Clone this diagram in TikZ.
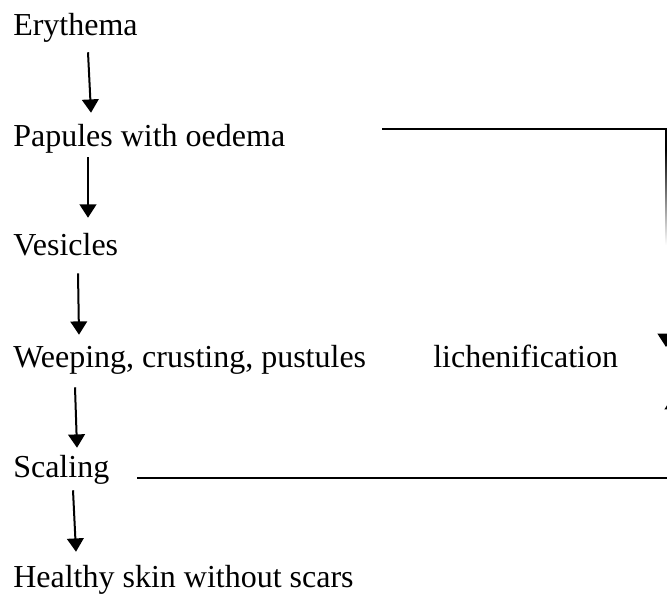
\documentclass[tikz,border=0pt]{standalone}
\usepackage{fontspec}
\setmainfont{Liberation Serif}
\usetikzlibrary{arrows.meta, positioning, calc}

\begin{document}
\begin{tikzpicture}[
		x=0.75pt, y=-0.75pt,
		stage/.style={inner sep=0pt, anchor=base west, text height=16.5pt, text depth=5.25pt,
			font=\fontsize{24}{28}\selectfont},
		arrow/.style={-{Triangle[length=10pt, width=12.5pt]}, line width=1.5pt},
		edge/.style={line width=1.5pt}
	]
		\useasboundingbox (0,0) rectangle (667,597);
		\clip (0,0) rectangle (667,597);
		\node[stage] (ery) at (13,35) {Erythema};
		\node[stage] (pap) at (13,146) {Papules with oedema};
		\node[stage] (ves) at (13,255) {Vesicles};
		\node[stage] (weep) at (13,367) {Weeping, crusting, pustules};
		\node[stage] (lich) at (433,367) {lichenification};
		\node[stage] (scal) at (13,477) {Scaling};
		\node[stage] (heal) at (13,587) {Healthy skin without scars};
		% main sequence
		\draw[arrow] ($(ery.south west)+(75,10)$) -- ($(pap.north west)+(78,-11)$);
		\draw[arrow] ($(pap.south west)+(75,4)$) -- ($(ves.north west)+(75,-15)$);
		\draw[arrow] ($(ves.south west)+(65,11)$) -- ($(weep.north west)+(66,-10)$);
		\draw[arrow] ($(weep.south west)+(62,13)$) -- ($(scal.north west)+(64,-7)$);
		\draw[arrow] ($(scal.south west)+(60,6)$) -- ($(heal.north west)+(63,-13)$);
		% side loop
		\coordinate (pl) at (382,129);
		\coordinate (pr) at (666,129);
		\coordinate (pm) at (666,150);
		\draw[edge] (pl) -- (pr) -- (pm);
		\shade[top color=black, bottom color=white] ($(pm)+(-1,0)$) rectangle ($(pm)+(1,95)$);
		\draw[arrow] (666,334) -- (666,347);
		\draw[arrow] (673,420) -- (673,396);
		\coordinate (sl) at (137,478);
		\coordinate (sr) at (680,478);
		\draw[edge] (sl) -- (sr);
	\end{tikzpicture}
\end{document}
